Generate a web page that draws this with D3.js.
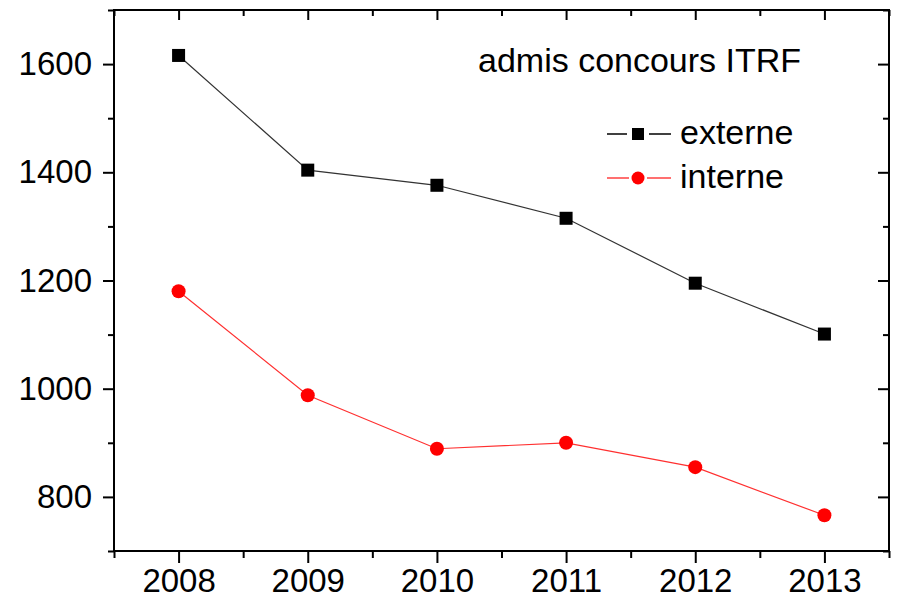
<!DOCTYPE html>
<html>
<head>
<meta charset="utf-8">
<script src="https://cdn.jsdelivr.net/npm/d3@7"></script>
<style>
  html, body { margin: 0; padding: 0; background: #fff; }
  svg { display: block; }
  text { font-family: "Liberation Sans", Arial, sans-serif; fill: #000; }
</style>
</head>
<body>
<svg id="chart" width="899" height="601"></svg>
<script>
// Admissions per year, ITRF recruitment exams
const years = [2008, 2009, 2010, 2011, 2012, 2013];
const externe = [1616, 1404, 1376, 1315, 1195, 1101];
const interne = [1180, 988, 889, 900, 855, 766];
const yMajorTicks = [800, 1000, 1200, 1400, 1600];
const yMinorTicks = [700, 900, 1100, 1300, 1500, 1700];
const xMinorTicks = [2007.5, 2008.5, 2009.5, 2010.5, 2011.5, 2012.5, 2013.5];
const titleText = "admis concours ITRF";
const seriesNames = ["externe", "interne"];

const svg = d3.select("#chart");
const plotLeft = 114, plotRight = 889, plotTop = 10, plotBottom = 551;

const x = d3.scaleLinear().domain([2007.5, 2013.5]).range([plotLeft, plotRight]);
const y = d3.scaleLinear().domain([700, 1700]).range([plotBottom, plotTop]);

const fontSize = 33;
const labelFontSize = 34;

function styleAxis(g) {
  g.select(".domain").remove();
  g.selectAll(".tick line").attr("stroke", "#000").attr("stroke-width", 2);
}

// left axis: outward ticks with labels
svg.append("g").attr("transform", `translate(${plotLeft},0)`)
  .call(d3.axisLeft(y).tickValues(yMajorTicks).tickSize(11).tickPadding(11).tickFormat(d3.format("d")))
  .call(styleAxis)
  .call(g => g.selectAll("text").attr("font-size", fontSize).attr("font-family", null));
svg.append("g").attr("transform", `translate(${plotLeft},0)`)
  .call(d3.axisLeft(y).tickValues(yMinorTicks).tickSize(6).tickFormat(""))
  .call(styleAxis);

// right axis: inward ticks
svg.append("g").attr("transform", `translate(${plotRight},0)`)
  .call(d3.axisLeft(y).tickValues(yMajorTicks).tickSize(11).tickFormat(""))
  .call(styleAxis);
svg.append("g").attr("transform", `translate(${plotRight},0)`)
  .call(d3.axisLeft(y).tickValues(yMinorTicks).tickSize(6).tickFormat(""))
  .call(styleAxis);

// bottom axis: outward ticks with labels
svg.append("g").attr("transform", `translate(0,${plotBottom})`)
  .call(d3.axisBottom(x).tickValues(years).tickSize(12).tickPadding(6).tickFormat(d3.format("d")))
  .call(styleAxis)
  .call(g => g.selectAll("text").attr("font-size", fontSize).attr("font-family", null));
svg.append("g").attr("transform", `translate(0,${plotBottom})`)
  .call(d3.axisBottom(x).tickValues(xMinorTicks).tickSize(7).tickFormat(""))
  .call(styleAxis);

// top axis: inward ticks
svg.append("g").attr("transform", `translate(0,${plotTop})`)
  .call(d3.axisBottom(x).tickValues(years).tickSize(10).tickFormat(""))
  .call(styleAxis);
svg.append("g").attr("transform", `translate(0,${plotTop})`)
  .call(d3.axisBottom(x).tickValues(xMinorTicks).tickSize(6).tickFormat(""))
  .call(styleAxis);

// plot frame
svg.append("rect")
  .attr("x", plotLeft).attr("y", plotTop)
  .attr("width", plotRight - plotLeft).attr("height", plotBottom - plotTop)
  .attr("fill", "none").attr("stroke", "#000").attr("stroke-width", 2);

const line = d3.line().x(d => x(d[0])).y(d => y(d[1]));

// externe series: black line with squares
const extData = years.map((yr, i) => [yr, externe[i]]);
svg.append("path").datum(extData)
  .attr("d", line).attr("fill", "none")
  .attr("stroke", "#333").attr("stroke-width", 1.2);
svg.selectAll(".sq").data(extData).enter().append("rect")
  .attr("class", "sq")
  .attr("x", d => x(d[0]) - 6.5).attr("y", d => y(d[1]) - 6.5)
  .attr("width", 13).attr("height", 13).attr("fill", "#000");

// interne series: red line with circles
const intData = years.map((yr, i) => [yr, interne[i]]);
svg.append("path").datum(intData)
  .attr("d", line).attr("fill", "none")
  .attr("stroke", "#ff3030").attr("stroke-width", 1.2);
svg.selectAll(".dot").data(intData).enter().append("circle")
  .attr("class", "dot")
  .attr("cx", d => x(d[0])).attr("cy", d => y(d[1]))
  .attr("r", 7).attr("fill", "#ff0000");

// title inside plot
svg.append("text")
  .attr("x", 478).attr("y", 72)
  .attr("font-size", labelFontSize)
  .text(titleText);

// legend: short line segments on each side of the marker
const legend = svg.append("g");
const legY = [134, 178];
const legCx = 638;
[[607, 627], [649, 671]].forEach(([a, b]) => {
  legend.append("line").attr("x1", a).attr("x2", b).attr("y1", legY[0]).attr("y2", legY[0])
    .attr("stroke", "#000").attr("stroke-width", 1.5);
});
legend.append("rect").attr("x", legCx - 6).attr("y", legY[0] - 6).attr("width", 12).attr("height", 12).attr("fill", "#000");
[[607, 629], [647, 671]].forEach(([a, b]) => {
  legend.append("line").attr("x1", a).attr("x2", b).attr("y1", legY[1]).attr("y2", legY[1])
    .attr("stroke", "#ff4040").attr("stroke-width", 1.5);
});
legend.append("circle").attr("cx", legCx).attr("cy", legY[1]).attr("r", 6.5).attr("fill", "#ff0000");
seriesNames.forEach((name, i) => {
  legend.append("text")
    .attr("x", 680).attr("y", legY[i] + 10)
    .attr("font-size", labelFontSize)
    .text(name);
});
</script>
</body>
</html>
